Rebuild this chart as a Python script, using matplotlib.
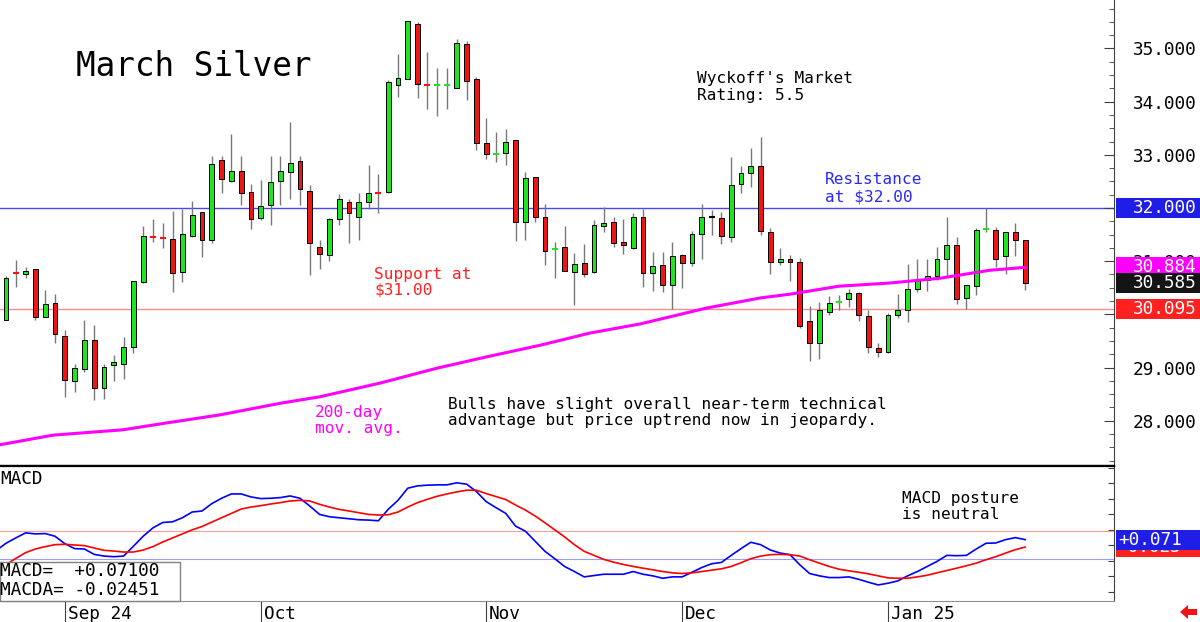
import numpy as np
import matplotlib.pyplot as plt
from matplotlib.patches import Rectangle, Polygon
from matplotlib.transforms import blended_transform_factory, ScaledTranslation
from matplotlib.ticker import MultipleLocator

# daily candles, March silver futures
opens = [29.90, 30.78, 30.75, 30.85, 29.96, 30.21, 29.59, 28.75, 28.97, 29.51,
         28.61, 29.05, 29.06, 29.38, 30.60, 31.49, 31.46, 31.42, 30.79, 31.47,
         31.92, 31.40, 32.90, 32.50, 32.70, 32.30, 31.81, 32.06, 32.51, 32.67,
         32.88, 32.32, 31.26, 31.12, 31.79, 32.12, 31.84, 32.11, 32.30, 32.30,
         34.31, 34.43, 35.46, 34.33, 34.29, 34.30, 34.25, 35.08, 34.42, 33.22,
         33.00, 33.04, 33.28, 31.73, 32.58, 31.84, 31.20, 31.26, 30.80, 30.96,
         30.80, 31.66, 31.73, 31.37, 31.24, 31.84, 30.77, 30.92, 30.55, 31.12,
         30.97, 31.51, 31.83, 31.82, 31.46, 32.45, 32.65, 32.79, 31.54, 30.99,
         31.04, 30.98, 29.88, 29.47, 30.04, 30.21, 30.29, 30.41, 29.97, 29.36,
         29.30, 29.98, 30.08, 30.47, 30.65, 30.72, 31.05, 31.30, 30.30, 30.54,
         31.59, 31.59, 31.09, 31.55, 31.39]
highs = [30.72, 31.02, 30.89, 30.86, 30.45, 30.38, 29.71, 29.06, 29.90, 29.80,
         29.07, 29.23, 29.57, 30.62, 31.66, 31.79, 31.72, 31.95, 31.99, 32.13,
         31.93, 32.97, 32.98, 33.39, 32.97, 32.45, 32.53, 32.98, 32.98, 33.62,
         32.98, 32.43, 31.40, 31.81, 32.26, 32.17, 32.28, 32.80, 32.64, 34.40,
         34.90, 35.52, 35.50, 34.93, 34.63, 34.63, 35.17, 35.14, 34.47, 33.69,
         33.42, 33.49, 33.28, 32.68, 32.58, 32.08, 31.37, 31.66, 31.15, 31.32,
         31.77, 32.02, 31.84, 31.80, 31.90, 31.99, 31.17, 31.18, 31.37, 31.14,
         31.57, 32.08, 31.96, 31.93, 32.95, 32.79, 33.13, 33.34, 31.63, 31.24,
         31.12, 31.06, 30.15, 30.23, 30.35, 30.36, 30.47, 30.43, 30.08, 29.47,
         30.02, 30.38, 30.95, 31.04, 31.04, 31.27, 31.84, 31.45, 30.56, 31.62,
         32.00, 31.64, 31.55, 31.71, 31.39]
lows = [29.89, 30.51, 30.68, 29.90, 29.95, 29.47, 28.44, 28.55, 28.91, 28.39,
        28.41, 28.75, 28.78, 29.27, 30.59, 31.37, 31.24, 30.42, 30.60, 31.46,
        31.07, 31.35, 32.29, 32.48, 32.06, 31.61, 31.78, 31.68, 32.06, 32.17,
        32.06, 30.74, 30.85, 31.01, 31.68, 31.35, 31.40, 31.99, 31.91, 32.29,
        34.09, 34.43, 34.06, 33.87, 33.73, 33.87, 34.25, 34.03, 33.09, 32.92,
        32.86, 32.80, 31.38, 31.39, 31.73, 30.93, 30.69, 30.82, 30.18, 30.71,
        30.78, 31.54, 31.27, 31.14, 31.23, 30.51, 30.44, 30.43, 30.10, 30.50,
        30.91, 31.05, 31.50, 31.32, 31.36, 32.28, 32.39, 31.49, 30.75, 30.93,
        30.62, 29.74, 29.13, 29.17, 29.98, 30.08, 30.13, 29.88, 29.28, 29.20,
        29.27, 29.94, 29.86, 30.42, 30.44, 30.65, 30.71, 30.20, 30.10, 30.37,
        31.54, 30.90, 30.76, 31.10, 30.46]
closes = [30.68, 30.77, 30.82, 29.96, 30.20, 29.64, 28.77, 28.99, 29.52, 28.62,
          29.02, 29.11, 29.38, 30.62, 31.47, 31.46, 31.43, 30.78, 31.51, 31.87,
          31.39, 32.82, 32.54, 32.70, 32.29, 31.79, 32.04, 32.48, 32.70, 32.85,
          32.36, 31.34, 31.14, 31.79, 32.16, 31.90, 32.12, 32.29, 32.28, 34.37,
          34.44, 35.51, 34.33, 34.31, 34.32, 34.31, 35.10, 34.38, 33.23, 33.01,
          33.01, 33.25, 31.73, 32.56, 31.84, 31.20, 31.23, 30.82, 30.95, 30.75,
          31.68, 31.71, 31.35, 31.30, 31.84, 30.77, 30.91, 30.55, 31.10, 30.97,
          31.52, 31.84, 31.83, 31.48, 32.44, 32.65, 32.79, 31.56, 30.99, 31.04,
          30.99, 29.79, 29.47, 30.08, 30.21, 30.23, 30.41, 29.98, 29.38, 29.30,
          29.99, 30.08, 30.47, 30.66, 30.73, 31.04, 31.30, 30.29, 30.55, 31.59,
          31.61, 31.04, 31.55, 31.39, 30.585]

# 200-day moving average, read at a few points along the curve
ma_idx = [-0.6, 4.8, 11.9, 16.4, 21.8, 28.0, 32.0, 38.2, 44.0, 49.0, 54.5,
          59.6, 64.7, 71.5, 77.0, 80.0, 85.0, 90.2, 95.3, 100.4, 104.0]
ma_val = [27.55, 27.73, 27.83, 27.96, 28.11, 28.33, 28.45, 28.71, 28.99, 29.20,
          29.42, 29.65, 29.82, 30.12, 30.31, 30.38, 30.53, 30.59, 30.68, 30.83,
          30.884]

# MACD (blue) and MACDA (red), first value is the day before the first candle
macd = [-0.071, 0.024, 0.093, 0.158, 0.145, 0.149, 0.115, 0.019, -0.045, -0.050,
        -0.119, -0.141, -0.149, -0.141, -0.015, 0.115, 0.223, 0.292, 0.301, 0.353,
        0.427, 0.440, 0.535, 0.604, 0.660, 0.660, 0.621, 0.600, 0.604, 0.613,
        0.634, 0.604, 0.504, 0.396, 0.366, 0.353, 0.340, 0.327, 0.323, 0.314,
        0.461, 0.578, 0.734, 0.764, 0.773, 0.777, 0.777, 0.803, 0.786, 0.691,
        0.561, 0.483, 0.409, 0.245, 0.180, 0.050, -0.080, -0.175, -0.275, -0.340,
        -0.409, -0.392, -0.375, -0.375, -0.375, -0.340, -0.375, -0.396, -0.427, -0.409,
        -0.409, -0.349, -0.288, -0.240, -0.223, -0.132, -0.045, 0.037, 0.006, -0.063,
        -0.102, -0.123, -0.253, -0.366, -0.396, -0.418, -0.418, -0.409, -0.440, -0.478,
        -0.513, -0.491, -0.461, -0.396, -0.340, -0.275, -0.210, -0.132, -0.136, -0.132,
        -0.050, 0.024, 0.028, 0.071, 0.097, 0.071]
macda = [-0.340, -0.253, -0.171, -0.097, -0.050, -0.019, 0.006, 0.011, 0.002, -0.006,
         -0.037, -0.067, -0.076, -0.089, -0.089, -0.063, -0.019, 0.041, 0.093, 0.145,
         0.197, 0.240, 0.297, 0.353, 0.409, 0.465, 0.491, 0.509, 0.530, 0.548,
         0.569, 0.578, 0.569, 0.526, 0.491, 0.461, 0.440, 0.418, 0.396, 0.388,
         0.392, 0.427, 0.491, 0.548, 0.591, 0.630, 0.660, 0.686, 0.708, 0.708,
         0.665, 0.626, 0.587, 0.517, 0.452, 0.375, 0.288, 0.197, 0.106, 0.006,
         -0.080, -0.132, -0.184, -0.219, -0.249, -0.275, -0.297, -0.318, -0.340, -0.357,
         -0.366, -0.357, -0.340, -0.323, -0.305, -0.275, -0.227, -0.175, -0.141, -0.123,
         -0.119, -0.123, -0.141, -0.188, -0.232, -0.275, -0.310, -0.331, -0.349, -0.370,
         -0.396, -0.422, -0.427, -0.427, -0.409, -0.388, -0.357, -0.327, -0.297, -0.266,
         -0.232, -0.188, -0.149, -0.102, -0.058, -0.025]

month_idx = [6, 26, 49, 69, 90]
month_lbl = ['Sep 24', 'Oct', 'Nov', 'Dec', 'Jan 25']
price_ticks = [28, 29, 30, 31, 32, 33, 34, 35]
hidden_ticks = [30, 32]   # covered by the value boxes

resistance = 32.0
support = 30.095
ma_last = 30.884
macd_band = 0.18

W, H = 1200, 622
plt.rcParams['font.family'] = 'DejaVu Sans Mono'
fig = plt.figure(figsize=(W / 100, H / 100), dpi=100)
ax = fig.add_axes([0, 1 - 466 / H, 1114 / W, 466 / H])
mx = fig.add_axes([0, 1 - 601 / H, 1114 / W, 135 / H], sharex=ax)

x = np.arange(len(closes))
o, h, l, c = (np.array(v) for v in (opens, highs, lows, closes))
col = np.where(c > o, '#1ee61e', np.where(c < o, '#f01414', 'black'))
body = np.abs(c - o)
big = body >= 0.04

ax.axhline(resistance, color='#4646ff', lw=1, zorder=1)
ax.axhline(support, color='#ff8c8c', lw=1, zorder=1)
ax.vlines(x, l, h, color='#787878', lw=1, zorder=2)
ax.bar(x[big], body[big], bottom=np.minimum(o, c)[big], width=0.5,
       color=col[big], edgecolor='black', linewidth=0.7, zorder=3)
ax.hlines(c[~big], x[~big] - 0.3, x[~big] + 0.3, color=col[~big], lw=1.5, zorder=3)
ax.plot(ma_idx, ma_val, color='#ff00ff', lw=2.2, zorder=4)

ax.set_xlim(-0.61, 113.06)
ax.set_ylim(27.15, 35.91)
ax.yaxis.tick_right()
ax.set_yticks(price_ticks, ['' if p in hidden_ticks else f'{p:.3f}' for p in price_ticks])
ax.yaxis.set_minor_locator(MultipleLocator(0.25))
ax.tick_params(axis='y', which='major', direction='in', length=7, color='#404040',
               labelsize=12.8, pad=13.5)
ax.tick_params(axis='y', which='minor', direction='in', length=3.5, color='#404040')
ax.tick_params(axis='x', bottom=False, labelbottom=False)
for s in ('top', 'left'):
    ax.spines[s].set_visible(False)
ax.spines['right'].set_color('#404040')
ax.spines['bottom'].set_linewidth(1.6)

# value boxes on the price scale
tb = blended_transform_factory(ax.transAxes, ax.transData)
for val, fc in [(resistance, '#1e1ee6'), (support, '#ff2020'),
                (ma_last, '#ff00ff'), (closes[-1], '#141414')]:
    ax.add_patch(Rectangle((1.0015, val - 0.188), 84 / 1114, 0.376, transform=tb,
                           facecolor=fc, edgecolor='none', clip_on=False, zorder=10))
    ax.text(1133 / 1114, val, f'{val:.3f}', transform=tb, color='white',
            fontsize=12.8, va='center', ha='left', zorder=11, clip_on=False)

# MACD panel
xm = np.arange(-1, len(closes))
mx.axhline(macd_band, color='#ff9c9c', lw=0.8)
mx.axhline(-macd_band, color='#9c9cff', lw=0.8)
mx.plot(xm, macd, color='#0000ff', lw=1.2)
mx.plot(xm, macda, color='#ff0000', lw=1.2)
mx.set_ylim(-0.72, 1.02)
mx.yaxis.tick_right()
mx.yaxis.set_major_locator(MultipleLocator(0.2))
mx.tick_params(axis='y', direction='in', length=4, color='#404040', labelright=False)
mx.set_xticks(month_idx, month_lbl)
mx.tick_params(axis='x', direction='out', length=15, width=0.8, color='#404040',
               labelsize=12.8, pad=-12)
off = ScaledTranslation(3 / 100, 0, fig.dpi_scale_trans)
for t in mx.get_xticklabels():
    t.set_ha('left')
    t.set_transform(t.get_transform() + off)
mx.spines['left'].set_visible(False)
mx.spines['top'].set_linewidth(1.6)
mx.spines['bottom'].set_color('#909090')
mx.spines['right'].set_color('#404040')

tm = blended_transform_factory(mx.transAxes, mx.transData)
for val, fc, z in [(macda[-1], '#ff2020', 10), (macd[-1], '#1e1ee6', 12)]:
    mx.add_patch(Rectangle((1.0015, val - 0.13), 84 / 1114, 0.26, transform=tm,
                           facecolor=fc, edgecolor='none', clip_on=False, zorder=z))
    mx.text(1118 / 1114, val, f'{val:+.3f}', transform=tm, color='white',
            fontsize=12.8, va='center', ha='left', zorder=z + 1, clip_on=False)


def note(px, py, lines, color='black', size=11.6, step=16.5):
    for k, s in enumerate(lines):
        fig.text(px / W, 1 - (py + k * step) / H, s, color=color, fontsize=size,
                 va='center', ha='left', zorder=20)


note(76, 66, ['March Silver'], size=23.5)
note(697, 79, ["Wyckoff's Market", 'Rating: 5.5'])
note(825, 180, ['Resistance', 'at $32.00'], color='#2828ff')
note(374, 274, ['Support at', '$31.00'], color='#ff2020')
note(315, 412, ['200-day', 'mov. avg.'], color='#ff00ff')
note(448, 404, ['Bulls have slight overall near-term technical',
                'advantage but price uptrend now in jeopardy.'])
note(902, 498, ['MACD posture', 'is neutral'])
note(0, 479, ['MACD'], size=12.8)

fig.add_artist(Rectangle((0, 1 - 601 / H), 180 / W, 39 / H, transform=fig.transFigure,
                         facecolor='white', edgecolor='#808080', lw=1, zorder=15))
note(0, 571, ['MACD=  +0.07100', 'MACDA= -0.02451'], size=12.8, step=19)

arrow = [(1180, 612), (1188, 605), (1188, 609), (1197, 609),
         (1197, 615), (1188, 615), (1188, 619)]
fig.add_artist(Polygon([(px / W, 1 - py / H) for px, py in arrow], closed=True,
                       transform=fig.transFigure, facecolor='#f01414', edgecolor='none'))

fig.savefig('out.png', dpi=100)
